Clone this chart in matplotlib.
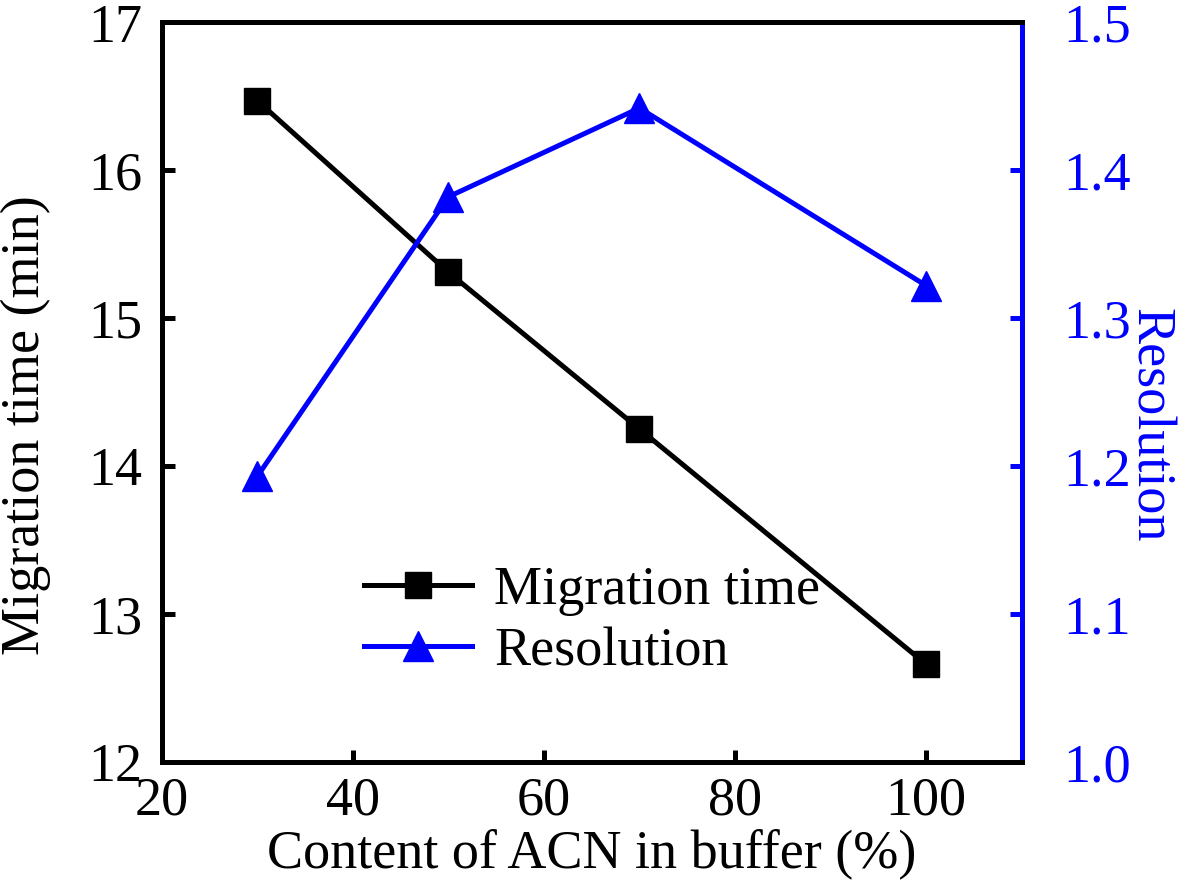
import matplotlib
matplotlib.use('Agg')
import matplotlib.pyplot as plt

plt.rcParams['font.family'] = ['Liberation Serif', 'DejaVu Serif']

# data
acn = [30, 50, 70, 100]
migration_time = [16.47, 15.31, 14.25, 12.66]
resolution = [1.193, 1.382, 1.442, 1.322]

fig = plt.figure(figsize=(11.81, 8.91), dpi=100)
ax1 = fig.add_axes([0.137, 0.145, 0.728, 0.830])
ax2 = ax1.twinx()

lw = 3.6
l1, = ax1.plot(acn, migration_time, color='black', lw=lw, marker='s', markersize=19,
               label='Migration time')
l2, = ax2.plot(acn, resolution, color='blue', lw=lw, marker='^', markersize=21,
               label='Resolution')

ax1.set_xlim(20, 110)
ax1.set_ylim(12, 17)
ax2.set_ylim(1.0, 1.5)
ax1.set_xticks([20, 40, 60, 80, 100])
ax1.set_yticks([12, 13, 14, 15, 16, 17])
ax2.set_yticks([1.0, 1.1, 1.2, 1.3, 1.4, 1.5])
ax2.set_yticklabels(['1.0', '1.1', '1.2', '1.3', '1.4', '1.5'])

fs = 39
ax1.set_xlabel('Content of ACN in buffer (%)', fontsize=fs, labelpad=2)
ax1.set_ylabel('Migration time (min)', fontsize=fs, va='center')
ax1.yaxis.set_label_coords(-0.158, 0.455)
ax2.set_ylabel('Resolution', fontsize=fs, color='blue', rotation=270, va='center')
ax2.yaxis.set_label_coords(1.149, 0.455)

for ax in (ax1, ax2):
    for s in ax.spines.values():
        s.set_linewidth(3.6)
ax2.spines['right'].set_color('blue')

ax1.tick_params(axis='x', direction='in', length=9, width=3.6, labelsize=fs, pad=10)
ax1.tick_params(axis='y', direction='in', length=9, width=3.6, labelsize=fs, pad=14)
ax2.tick_params(axis='y', direction='in', length=9, width=3.6, labelsize=fs, pad=30,
                color='blue', labelcolor='blue')

ax1.legend(handles=[l1, l2], loc='lower left', bbox_to_anchor=(0.21, 0.085), frameon=False,
           fontsize=fs, handlelength=2.0, handletextpad=0.4, labelspacing=0.2,
           borderaxespad=0)

fig.savefig('out.png', dpi=100)
